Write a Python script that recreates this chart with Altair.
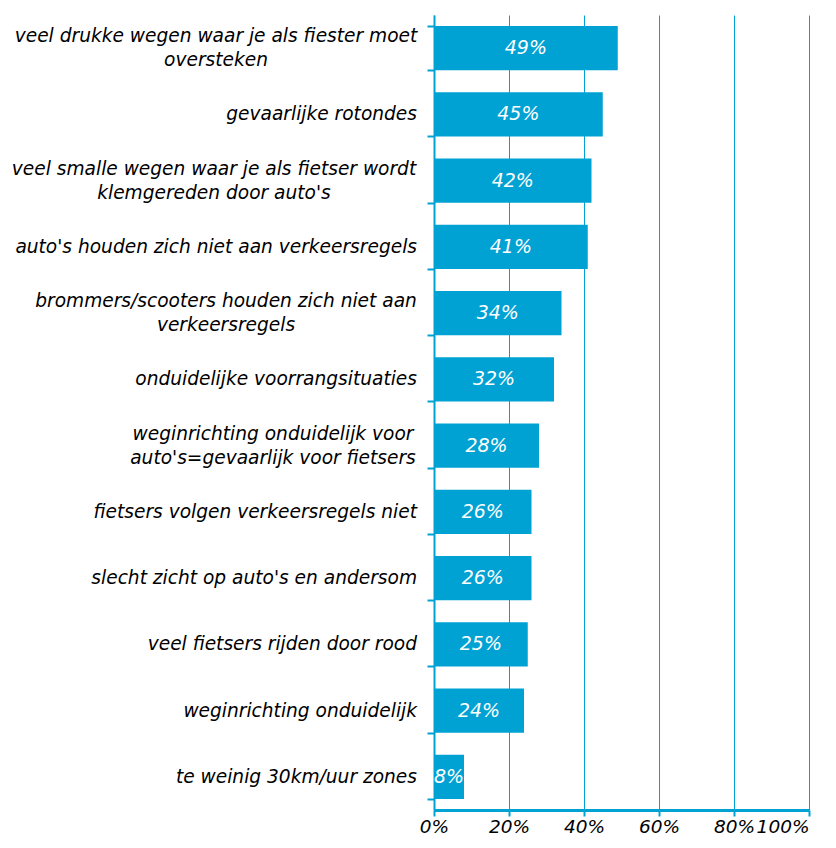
import altair as alt
import pandas as pd

categories = [
    "veel drukke wegen waar je als fiester moet\noversteken",
    "gevaarlijke rotondes",
    "veel smalle wegen waar je als fietser wordt\nklemgereden door auto's",
    "auto's houden zich niet aan verkeersregels",
    "brommers/scooters houden zich niet aan\nverkeersregels",
    "onduidelijke voorrangsituaties",
    "weginrichting onduidelijk voor\nauto's=gevaarlijk voor fietsers",
    "fietsers volgen verkeersregels niet",
    "slecht zicht op auto's en andersom",
    "veel fietsers rijden door rood",
    "weginrichting onduidelijk",
    "te weinig 30km/uur zones",
]
values = [0.49, 0.45, 0.42, 0.41, 0.34, 0.32, 0.28, 0.26, 0.26, 0.25, 0.24, 0.08]
value_labels = ["49%", "45%", "42%", "41%", "34%", "32%", "28%", "26%", "26%", "25%", "24%", "8%"]
x_ticks = [0, 0.2, 0.4, 0.6, 0.8, 1.0]

df = pd.DataFrame({"cat": categories, "val": values, "lbl": value_labels})

BLUE = "#00A2D3"
FONT = "DejaVu Sans"
LABEL_SIZE = 18.6

# distance (px) from the axis line to the centre of each two-line category label
multi_line_offsets = {categories[0]: 218, categories[2]: 220, categories[4]: 208, categories[6]: 161}

y_enc = alt.Y(
    "cat:N",
    sort=categories,
    title=None,
    scale=alt.Scale(paddingInner=0.335, paddingOuter=0.1675),
    axis=alt.Axis(
        orient="left",
        labels=False,
        tickBand="extent",
        tickSize=7,
        tickColor=BLUE,
        tickWidth=2,
        domainColor=BLUE,
        domainWidth=2,
        grid=False,
    ),
)

x_enc = alt.X(
    "val:Q",
    title=None,
    scale=alt.Scale(domain=[0, 1], nice=False),
    axis=alt.Axis(
        values=x_ticks,
        format=".0%",
        labelFont=FONT,
        labelFontStyle="italic",
        labelFontSize=18.5,
        labelColor="black",
        labelPadding=1,
        labelAlign={"condition": {"test": "datum.value >= 1", "value": "right"}, "value": "center"},
        tickSize=6,
        tickColor=BLUE,
        tickWidth=2,
        domainColor=BLUE,
        domainWidth=3,
        grid=True,
        gridColor=BLUE,
        gridWidth=1,
    ),
)

bars = alt.Chart(df).mark_bar(color=BLUE).encode(x=x_enc, y=y_enc)

values_text = (
    alt.Chart(df)
    .transform_calculate(mid="datum.val / 2")
    .mark_text(
        color="white",
        font=FONT,
        fontStyle="italic",
        fontSize=19,
        align="center",
        baseline="middle",
    )
    .encode(
        x=alt.X("mid:Q"),
        y=alt.Y("cat:N", sort=categories),
        text="lbl:N",
    )
)

single_labels = (
    alt.Chart(df)
    .transform_filter("indexof(datum.cat, '\\n') < 0")
    .mark_text(
        color="black",
        font=FONT,
        fontStyle="italic",
        fontSize=LABEL_SIZE,
        align="right",
        baseline="middle",
    )
    .encode(
        x=alt.value(-17),
        y=alt.Y("cat:N", sort=categories),
        text="cat:N",
    )
)

multi_layers = []
for cat, off in multi_line_offsets.items():
    multi_layers.append(
        alt.Chart(df)
        .transform_filter(alt.FieldOneOfPredicate(field="cat", oneOf=[cat]))
        .mark_text(
            color="black",
            font=FONT,
            fontStyle="italic",
            fontSize=LABEL_SIZE,
            align="center",
            baseline="middle",
            lineBreak="\n",
            lineHeight=24,
            dy=-12,
        )
        .encode(
            x=alt.value(-off),
            y=alt.Y("cat:N", sort=categories),
            text="cat:N",
        )
    )

chart = (
    alt.layer(bars, values_text, single_labels, *multi_layers)
    .properties(
        width=375,
        height=795,
        autosize=alt.AutoSizeParams(type="none"),
        padding={"left": 426, "top": 7, "right": 19, "bottom": 26},
    )
    .configure_view(stroke=None)
)

chart.save("out.html", embed_options={"renderer": "svg", "actions": False})
